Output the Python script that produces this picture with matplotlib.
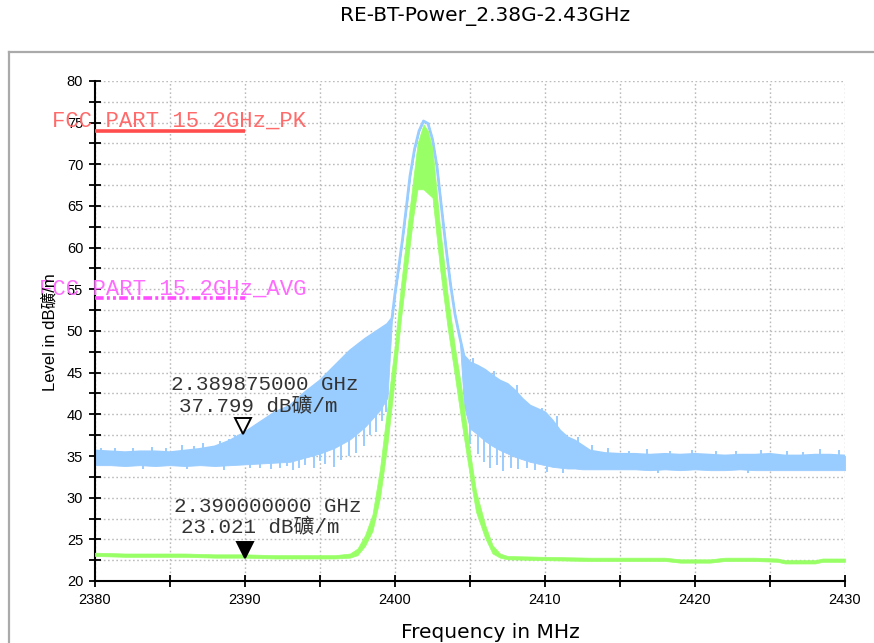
import matplotlib
matplotlib.use("Agg")
import numpy as np
import matplotlib.pyplot as plt
from matplotlib.ticker import MultipleLocator
from matplotlib.lines import Line2D
from matplotlib.transforms import offset_copy

# ---------------- data ----------------
title = "RE-BT-Power_2.38G-2.43GHz"
x_label = "Frequency in MHz"
y_label = "Level in dB礦/m"

# peak-hold trace (blue): outer envelope and dense-body bottom
blue_f = [2380, 2381, 2382, 2383, 2384, 2385, 2386, 2387, 2388, 2389, 2390,
          2391, 2392, 2393, 2394, 2395, 2396, 2397, 2398, 2399, 2399.5, 2399.8,
          2400.0, 2400.2, 2400.5, 2400.8, 2401.0, 2401.3, 2401.6, 2401.9,
          2402.2, 2402.5, 2402.8, 2403.1, 2403.4, 2403.7, 2404.0, 2404.3,
          2404.6, 2405, 2405.5, 2406, 2406.5, 2407, 2407.5, 2408, 2408.5,
          2409, 2409.5, 2410, 2410.5, 2411, 2411.5, 2412, 2412.5, 2413, 2414,
          2415, 2416, 2417, 2418, 2419, 2420, 2421, 2422, 2423, 2424, 2425,
          2426, 2427, 2428, 2429, 2430]
blue_hi = [35.6, 35.5, 35.4, 35.5, 35.5, 35.4, 35.6, 35.8, 36.1, 36.8, 37.8,
           39.0, 40.2, 41.0, 42.6, 44.0, 45.8, 47.6, 49.0, 50.2, 50.8, 51.5,
           54.5, 57.0, 61.0, 65.5, 68.6, 71.8, 74.0, 75.2,
           74.9, 73.0, 69.7, 64.8, 60.0, 55.6, 52.0, 49.4,
           47.0, 46.2, 45.8, 45.3, 44.6, 44.0, 43.6, 42.8, 41.8,
           41.0, 40.6, 40.2, 39.2, 38.0, 37.2, 36.8, 36.2, 35.6, 35.3,
           35.2, 35.2, 35.1, 35.2, 35.1, 35.2, 35.1, 35.0, 35.1, 35.1, 35.2,
           35.0, 35.0, 35.1, 35.1, 35.0]
blue_lo = [33.9, 33.9, 33.8, 33.9, 33.8, 33.9, 33.8, 33.9, 33.8, 33.9, 34.0,
           34.1, 34.2, 34.3, 34.8, 35.3, 36.0, 37.0, 38.5, 40.5, 42.0, 51.5,
           54.5, 57.0, 61.0, 65.5, 68.6, 71.8, 74.0, 75.2,
           74.9, 73.0, 69.7, 64.8, 60.0, 55.6, 52.0, 49.4,
           41.0, 38.3, 37.6, 36.8, 36.2, 35.7, 35.3, 34.9, 34.6,
           34.3, 34.1, 33.9, 33.7, 33.6, 33.5, 33.5, 33.4, 33.4, 33.4,
           33.4, 33.4, 33.3, 33.4, 33.3, 33.4, 33.3, 33.3, 33.4, 33.3, 33.3,
           33.3, 33.3, 33.3, 33.3, 33.3]
# isolated spikes of the blue trace
blue_up_f = [2380.4, 2381.3, 2382.5, 2383.8, 2384.7, 2385.8, 2386.6, 2387.2,
             2388.3, 2388.9, 2389.3, 2390.7, 2391.5, 2392.6, 2393.8, 2395.6,
             2405.2, 2406.6, 2408.1, 2409.8, 2410.8, 2412.2, 2413.1,
             2414.2, 2415.6, 2416.8, 2418.3, 2419.8, 2421.4, 2422.7, 2424.4,
             2426.1, 2427.2, 2428.3, 2429.6]
blue_up_v = [36.0, 35.9, 35.9, 36.1, 35.9, 36.3, 36.2, 36.5,
             36.8, 37.0, 37.5, 38.8, 39.6, 40.5, 41.8, 45.2,
             46.8, 45.2, 43.5, 40.8, 39.8, 37.3, 36.3,
             35.9, 35.6, 35.8, 35.6, 35.7, 35.6, 35.6, 35.7,
             35.6, 35.5, 35.8, 35.7]
blue_dn_f = [2383.2, 2386.1, 2388.6, 2390.3, 2391.0, 2391.7, 2392.3, 2392.8,
             2393.2, 2393.6, 2394.0, 2394.6, 2395.0, 2395.3, 2395.9, 2396.4,
             2396.9, 2397.4, 2397.9, 2398.3, 2398.7, 2399.1, 2399.4,
             2405.0, 2405.5, 2405.9, 2406.3, 2406.8, 2407.2, 2407.7, 2408.2,
             2408.8, 2409.3, 2410.1, 2411.2, 2417.5, 2423.5]
blue_dn_v = [33.4, 33.4, 33.3, 33.5, 33.6, 33.4, 33.5, 33.8,
             33.3, 33.6, 33.9, 33.6, 34.4, 34.0, 33.7, 34.5,
             35.0, 35.3, 36.2, 37.5, 37.9, 39.2, 40.3,
             36.4, 35.2, 34.3, 33.6, 33.9, 33.2, 33.6, 33.4,
             33.6, 33.3, 33.1, 33.0, 32.9, 32.9]

# average trace (green): upper and lower envelope
green_f = [2380, 2382, 2384, 2386, 2388, 2390, 2392, 2394, 2396, 2397, 2397.5,
           2398, 2398.5, 2399, 2399.5, 2400, 2400.4, 2400.8, 2401.2, 2401.5,
           2401.9, 2402.2, 2402.5, 2403.0, 2403.5, 2404.0, 2404.4, 2405.0,
           2405.4, 2406.0, 2406.5, 2407.0, 2407.5, 2410, 2413, 2416, 2418,
           2419, 2421, 2422, 2424, 2425.5, 2426, 2428, 2428.5, 2430]
green_hi = [23.4, 23.3, 23.3, 23.3, 23.2, 23.2, 23.1, 23.1, 23.1, 23.3, 23.9,
            25.5, 28.0, 33.5, 41.0, 48.5, 55.5, 62.0, 68.0, 72.5,
            74.8, 74.0, 71.8, 62.5, 54.5, 48.0, 43.5, 35.5,
            30.8, 26.8, 24.3, 23.3, 23.0, 22.9, 22.8, 22.8, 22.8,
            22.6, 22.6, 22.8, 22.8, 22.7, 22.5, 22.5, 22.7, 22.7]
green_lo = [23.0, 22.9, 22.9, 22.9, 22.8, 22.8, 22.7, 22.7, 22.7, 22.8, 23.1,
            24.2, 26.0, 30.0, 36.5, 44.5, 51.5, 57.5, 63.5, 67.0,
            67.0, 66.5, 66.0, 57.5, 50.5, 44.5, 39.5, 32.5,
            28.3, 25.2, 23.3, 22.8, 22.6, 22.5, 22.4, 22.4, 22.4,
            22.2, 22.2, 22.4, 22.4, 22.3, 22.1, 22.1, 22.3, 22.3]

# limit lines
limit_names = ["FCC PART 15 2GHz_PK", "FCC PART 15 2GHz_AVG"]
limit_levels = [74.0, 54.0]
limit_span = [2380, 2390]

# markers
marker_freq_ghz = [2.389875, 2.390000]
marker_level = [37.799, 23.021]
marker_lines1 = ["2.389875000 GHz", "2.390000000 GHz"]
marker_lines2 = ["37.799 dB礦/m", "23.021 dB礦/m"]

# ---------------- figure ----------------
BLUE = "#99CCFF"
GREEN = "#99FF66"
RED = "#FF4D4D"
MAGENTA = "#FF4DFF"
TXT = "#333333"

fig = plt.figure(figsize=(8.74, 6.43), dpi=100)
W, H = 874, 643
ax = fig.add_axes([95 / W, 1 - 581 / H, 750 / W, 500 / H])

# outer frame (gray)
fig.add_artist(Line2D([9 / W, 1.0], [1 - 52 / H, 1 - 52 / H],
                      transform=fig.transFigure, color="#AAAAAA", lw=1.6))
fig.add_artist(Line2D([9 / W, 9 / W], [0, 1 - 52 / H],
                      transform=fig.transFigure, color="#AAAAAA", lw=1.6))

ax.set_xlim(2380, 2430)
ax.set_ylim(20, 80)
ax.xaxis.set_major_locator(MultipleLocator(10))
ax.xaxis.set_minor_locator(MultipleLocator(5))
ax.yaxis.set_major_locator(MultipleLocator(5))
ax.yaxis.set_minor_locator(MultipleLocator(2.5))
ax.grid(which="both", color="#BBBBBB", lw=1.0, linestyle=(0, (1.2, 1.8)))
ax.set_axisbelow(True)
for s in ("top", "right"):
    ax.spines[s].set_visible(False)
for s in ("left", "bottom"):
    ax.spines[s].set_linewidth(1.5)
    ax.spines[s].set_color("black")
ax.tick_params(which="major", direction="inout", length=9, width=1.3,
               labelsize=10.5, pad=4)
ax.tick_params(which="minor", direction="inout", length=8, width=1.3)
for lab in ax.get_xticklabels() + ax.get_yticklabels():
    lab.set_fontfamily("Liberation Sans")

# blue trace
ax.fill_between(blue_f, blue_lo, blue_hi, color=BLUE, lw=0.6, edgecolor=BLUE,
                zorder=2)
ax.plot(blue_f, blue_hi, color=BLUE, lw=2.0, zorder=2)
up_base = np.interp(blue_up_f, blue_f, blue_hi) - 0.5
ax.vlines(blue_up_f, up_base, blue_up_v, color=BLUE, lw=1.4, zorder=2)
dn_top = np.interp(blue_dn_f, blue_f, blue_lo) + 0.5
ax.vlines(blue_dn_f, blue_dn_v, dn_top, color=BLUE, lw=1.4, zorder=2)

# green trace
ax.fill_between(green_f, green_lo, green_hi, color=GREEN, lw=0.5,
                edgecolor=GREEN, zorder=3)

# limit lines
ax.plot(limit_span, [limit_levels[0]] * 2, color=RED, lw=2.6, zorder=4,
        solid_capstyle="butt")
ax.plot(limit_span, [limit_levels[1]] * 2, color=MAGENTA, lw=2.6, zorder=4,
        linestyle=(0, (2.4, 0.9, 0.8, 0.9, 0.8, 0.9)))
mono = ["Liberation Mono", "Noto Sans CJK SC"]
ax.text(2394.1, 75.2, limit_names[0], color="#FF6A6A", family=mono,
        fontsize=16, ha="right", va="center", zorder=5)
ax.text(2394.1, 55.0, limit_names[1], color="#FF6AFF", family=mono,
        fontsize=16, ha="right", va="center", zorder=5)

# markers
up = offset_copy(ax.transData, fig=fig, x=0, y=4.5, units="points")
ax.plot(marker_freq_ghz[0] * 1000, marker_level[0], marker="v", ms=11,
        mfc="white", mec="black", mew=1.4, transform=up, zorder=6)
ax.plot(marker_freq_ghz[1] * 1000, marker_level[1], marker="v", ms=11,
        mfc="black", mec="black", mew=1.4, transform=up, zorder=6)

ax.text(2391.3, 43.6, marker_lines1[0], color=TXT, family=mono, fontsize=15,
        ha="center", va="center", zorder=6)
ax.text(2390.9, 40.95, marker_lines2[0], color=TXT, family=mono, fontsize=15,
        ha="center", va="center", zorder=6)
ax.text(2391.5, 29.0, marker_lines1[1], color=TXT, family=mono, fontsize=15,
        ha="center", va="center", zorder=6)
ax.text(2391.0, 26.4, marker_lines2[1], color=TXT, family=mono, fontsize=15,
        ha="center", va="center", zorder=6)

# titles / labels
fig.text(485.5 / W, 1 - 17 / H, title, ha="center", va="center",
         fontsize=14.5, family="DejaVu Sans")
fig.text(490 / W, 1 - 632 / H, x_label, ha="center", va="center",
         fontsize=14.5, family="DejaVu Sans")
fig.text(50 / W, 1 - 332 / H, y_label, ha="center", va="center", rotation=90,
         fontsize=12, family=["Liberation Sans", "Noto Sans CJK SC"])

fig.savefig("out.png", dpi=100)
